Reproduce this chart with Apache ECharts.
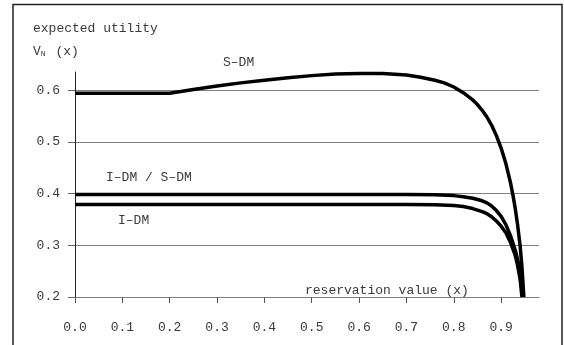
<!DOCTYPE html>
<html>
<head>
<meta charset="utf-8">
<script src="https://cdn.jsdelivr.net/npm/echarts@6/dist/echarts.min.js"></script>
<style>html,body{margin:0;padding:0;background:#fff}#c{width:564px;height:345px}</style>
</head>
<body>
<div id="c"></div>
<script>
// ---- data ----
const xTicks = [0, 0.1, 0.2, 0.3, 0.4, 0.5, 0.6, 0.7, 0.8, 0.9];
const yTicks = [0.2, 0.3, 0.4, 0.5, 0.6];

const sdmX = [0, 0.2, 0.25, 0.3, 0.35, 0.4, 0.45, 0.5, 0.55, 0.6, 0.65, 0.7, 0.73, 0.76, 0.78, 0.8, 0.82, 0.84, 0.85, 0.86, 0.87, 0.88, 0.89, 0.9, 0.91, 0.92, 0.925, 0.93, 0.935, 0.94, 0.944, 0.948];
const sdmY = [0.594, 0.594, 0.601, 0.608, 0.614, 0.619, 0.624, 0.628, 0.631, 0.632, 0.632, 0.629, 0.625, 0.619, 0.614, 0.606, 0.595, 0.581, 0.572, 0.561, 0.548, 0.532, 0.512, 0.488, 0.458, 0.42, 0.397, 0.37, 0.338, 0.3, 0.258, 0.2];

const idmSdmX = [0, 0.7, 0.76, 0.8, 0.82, 0.84, 0.86, 0.87, 0.88, 0.89, 0.9, 0.91, 0.92, 0.93, 0.935, 0.94, 0.944, 0.947];
const idmSdmY = [0.398, 0.398, 0.3975, 0.396, 0.394, 0.391, 0.386, 0.382, 0.376, 0.367, 0.356, 0.34, 0.318, 0.29, 0.272, 0.25, 0.225, 0.2];

const idmX = [0, 0.7, 0.76, 0.8, 0.82, 0.84, 0.86, 0.87, 0.88, 0.89, 0.9, 0.91, 0.92, 0.93, 0.935, 0.94, 0.944];
const idmY = [0.379, 0.379, 0.3785, 0.377, 0.375, 0.371, 0.365, 0.361, 0.355, 0.347, 0.337, 0.324, 0.305, 0.28, 0.26, 0.235, 0.2];

const seriesNames = ['S–DM', 'I–DM / S–DM', 'I–DM'];
const yTitle = 'expected utility';
const xTitle = 'reservation value (x)';

// ---- chart ----
const zip = (xs, ys) => xs.map((x, i) => [x, ys[i]]);
const FONT = "'Liberation Mono', 'DejaVu Sans Mono', monospace";
const TXT = '#3a3a3a';

const chart = echarts.init(document.getElementById('c'), null, {renderer: 'canvas'});
const lineStyle = {color: '#000', width: 3.5, join: 'round', cap: 'butt'};
const mk = (name, xs, ys) => ({
  name, type: 'line', data: zip(xs, ys), showSymbol: false, symbol: 'none',
  smooth: false, lineStyle, clip: true, silent: true, animation: false
});

chart.setOption({
  animation: false,
  grid: {left: 75, right: 25, top: 72, bottom: 48, containLabel: false},
  xAxis: {
    type: 'value', min: 0, max: 0.98,
    axisLine: {show: true, lineStyle: {color: '#808080', width: 1}},
    axisTick: {show: true, length: 6, lineStyle: {color: '#555'}, customValues: xTicks},
    axisLabel: {customValues: xTicks, margin: 24, fontFamily: FONT, fontSize: 13, color: TXT,
                formatter: v => v.toFixed(1)},
    splitLine: {show: false}
  },
  yAxis: {
    type: 'value', min: 0.2, max: 0.635,
    axisLine: {show: true, lineStyle: {color: '#222', width: 1}},
    axisTick: {show: true, length: 7, lineStyle: {color: '#666'}, customValues: yTicks},
    axisLabel: {customValues: yTicks, margin: 15, fontFamily: FONT, fontSize: 13, color: TXT,
                formatter: v => v.toFixed(1)},
    splitLine: {show: true, lineStyle: {color: '#808080', width: 1}}
  },
  series: [
    mk(seriesNames[0], sdmX, sdmY),
    mk(seriesNames[1], idmSdmX, idmSdmY),
    mk(seriesNames[2], idmX, idmY)
  ],
  graphic: [
    {type: 'rect', shape: {x: 13, y: 4.5, width: 549, height: 360},
     style: {fill: null, stroke: '#222', lineWidth: 1.5}, silent: true},
    {type: 'text', left: 33, top: 22, style: {text: yTitle, font: "13px " + FONT, fill: TXT}},
    {type: 'text', left: 33, top: 45, style: {
      text: 'V{s|N} (x)', font: "13px " + FONT, fill: TXT,
      rich: {s: {fontSize: 8, fontFamily: FONT, fill: TXT, padding: [4, 2, 0, 0]}}}},
    {type: 'text', left: 305, top: 284, style: {text: xTitle, font: "13px " + FONT, fill: TXT}},
    {type: 'text', left: 223, top: 56, style: {text: seriesNames[0], font: "13px " + FONT, fill: TXT}},
    {type: 'text', left: 106, top: 171, style: {text: seriesNames[1], font: "13px " + FONT, fill: TXT}},
    {type: 'text', left: 118, top: 214, style: {text: seriesNames[2], font: "13px " + FONT, fill: TXT}}
  ]
});
</script>
</body>
</html>
